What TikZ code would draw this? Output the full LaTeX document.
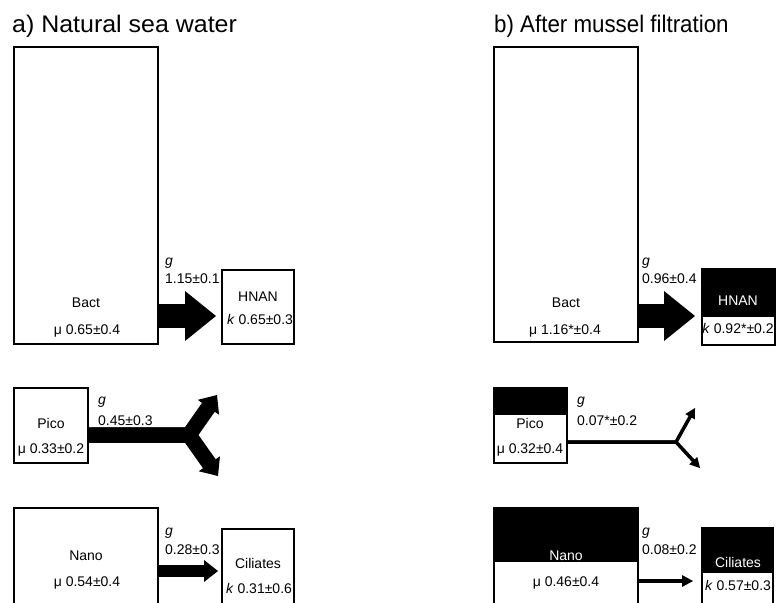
\documentclass[tikz,border=0pt]{standalone}
\usepackage{fontspec}
\usepackage{graphicx}
\setmainfont{Liberation Sans}
\usetikzlibrary{calc}
\newcommand{\headtri}[4]{% #1 from, #2 tip, #3 half width, #4 length
  \path ($(#2)!#4!(#1)$) coordinate (hb);
  \fill ($(hb)!#3!90:(#2)$) -- (#2) -- ($(hb)!#3!-90:(#2)$) -- cycle;}
\newcommand{\fatarrow}[5]{% #1 from, #2 tip, #3 shaft width, #4 half head, #5 head length
  \path ($(#2)!#5!(#1)$) coordinate (hb);
  \draw[line width=#3] (#1) -- ($(hb)!0.5pt!(#2)$);
  \fill ($(hb)!#4!90:(#2)$) -- (#2) -- ($(hb)!#4!-90:(#2)$) -- cycle;}
\begin{document}
\begin{tikzpicture}[x=1pt,y=-1pt,
  box/.style={draw, line width=2.5pt, inner sep=0pt, outer sep=0pt, anchor=north west},
  lbl/.style={anchor=base, inner sep=0pt, font=\fontsize{14}{16}\selectfont},
  lblw/.style={lbl, anchor=base west},
  ttl/.style={anchor=base west, inner sep=0pt, font=\fontsize{24}{28}\selectfont}]
\clip (0,0) rectangle (780,603);
\fill[white] (0,0) rectangle (780,603);

% titles
\node[ttl] (titleA) at (12,32) {\scalebox{1.04}[1]{a) Natural sea water}};
\node[ttl] (titleB) at (494,32) {\scalebox{0.93}[1]{b) After mussel filtration}};

% ---------- panel a ----------
\node[box, minimum width=144pt, minimum height=297pt] (bactA) at (14,47) {};
\node[box, minimum width=72pt, minimum height=74pt] (hnanA) at (222,270) {};
\node[box, minimum width=74pt, minimum height=75pt] (picoA) at (14,388) {};
\node[box, minimum width=144pt, minimum height=112pt] (nanoA) at (14,508) {};
\node[box, minimum width=72pt, minimum height=91pt] (ciliA) at (222,529) {};

\node[lbl] (bactAt) at (86,307) {Bact};
\node[lbl] (bactAm) at (87,334) {μ 0.65±0.4};
\node[lblw] (gA1) at (165,265) {\textit{g}};
\node[lblw] (gA1v) at (165,283) {1.15±0.1};
\node[lbl] (hnanAt) at (258,301) {HNAN};
\node[lbl] (hnanAk) at (260,324) {\textit{k} 0.65±0.3};

\node[lbl] (picoAt) at (51,428) {Pico};
\node[lbl] (picoAm) at (51,453) {μ 0.33±0.2};
\node[lblw] (gA2) at (98,404) {\textit{g}};
\node[lblw] (gA2v) at (98,425) {0.45±0.3};

\node[lbl] (nanoAt) at (86,560) {Nano};
\node[lbl] (nanoAm) at (87,586) {μ 0.54±0.4};
\node[lblw] (gA3) at (165,535) {\textit{g}};
\node[lblw] (gA3v) at (165,554) {0.28±0.3};
\node[lbl] (ciliAt) at (258,568) {Ciliates};
\node[lbl] (ciliAk) at (259,593) {\textit{k} 0.31±0.6};

% arrows panel a
\coordinate (aT0) at (216,316);
\fatarrow{bactA.east |- aT0}{aT0}{24pt}{25pt}{31pt}

\coordinate (aJ) at (189,435);
\coordinate (aT1) at (217,395);
\coordinate (aT2) at (218,476);
\path ($(aT1)!15pt!(aJ)$) coordinate (aH1);
\path ($(aT2)!15pt!(aJ)$) coordinate (aH2);
\draw[line width=15.5pt, line join=miter] (picoA.east |- aJ) -- (aJ) -- ($(aH1)!0.5pt!(aT1)$);
\draw[line width=15.5pt, line join=miter] (picoA.east |- aJ) -- (aJ) -- ($(aH2)!0.5pt!(aT2)$);
\headtri{aJ}{aT1}{13pt}{15pt}
\headtri{aJ}{aT2}{13pt}{15pt}

\coordinate (aT3) at (218,571);
\fatarrow{nanoA.east |- aT3}{aT3}{12pt}{11pt}{14pt}

% ---------- panel b ----------
\fill (702,269) rectangle (775,317);
\fill (494,388) rectangle (567,415);
\fill (494,508) rectangle (638,562);
\fill (702,528) rectangle (773,573);
\node[box, minimum width=144pt, minimum height=295pt] (bactB) at (494,47) {};
\node[box, minimum width=73pt, minimum height=76pt] (hnanB) at (702,269) {};
\node[box, minimum width=73pt, minimum height=75pt] (picoB) at (494,388) {};
\node[box, minimum width=144pt, minimum height=112pt] (nanoB) at (494,508) {};
\node[box, minimum width=71pt, minimum height=92pt] (ciliB) at (702,528) {};

\node[lbl] (bactBt) at (566,307) {Bact};
\node[lbl] (bactBm) at (565,334) {μ 1.16*±0.4};
\node[lblw] (gB1) at (642,265) {\textit{g}};
\node[lblw] (gB1v) at (642,283) {0.96±0.4};
\node[lbl, text=white] (hnanBt) at (738,305) {HNAN};
\node[lbl] (hnanBk) at (738,333) {\textit{k} 0.92*±0.2};

\node[lbl] (picoBt) at (530,428) {Pico};
\node[lbl] (picoBm) at (530,453) {μ 0.32±0.4};
\node[lblw] (gB2) at (577,404) {\textit{g}};
\node[lblw] (gB2v) at (577,425) {0.07*±0.2};

\node[lbl, text=white] (nanoBt) at (566,560) {Nano};
\node[lbl] (nanoBm) at (566,586) {μ 0.46±0.4};
\node[lblw] (gB3) at (642,535) {\textit{g}};
\node[lblw] (gB3v) at (642,554) {0.08±0.2};
\node[lbl, text=white] (ciliBt) at (738,567) {Ciliates};
\node[lbl] (ciliBk) at (738,590) {\textit{k} 0.57±0.3};

% arrows panel b
\coordinate (bT0) at (695,316);
\fatarrow{bactB.east |- bT0}{bT0}{24pt}{25pt}{31pt}

\coordinate (bJ) at (676,442);
\coordinate (bT1) at (695,408);
\coordinate (bT2) at (700,468);
\path ($(bT1)!10pt!(bJ)$) coordinate (bH1);
\path ($(bT2)!10pt!(bJ)$) coordinate (bH2);
\draw[line width=3.5pt, line join=miter] (picoB.east |- bJ) -- (bJ) -- ($(bH1)!0.5pt!(bT1)$);
\draw[line width=3.5pt, line join=miter] (picoB.east |- bJ) -- (bJ) -- ($(bH2)!0.5pt!(bT2)$);
\headtri{bJ}{bT1}{5.5pt}{10pt}
\headtri{bJ}{bT2}{5.5pt}{10pt}

\coordinate (bT3) at (693,581);
\fatarrow{nanoB.east |- bT3}{bT3}{3.5pt}{6pt}{11pt}
\end{tikzpicture}
\end{document}
